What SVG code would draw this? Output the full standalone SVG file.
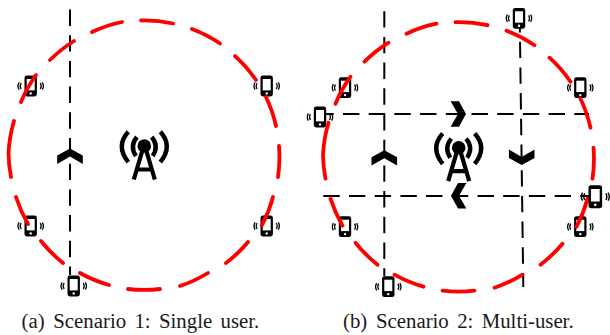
<svg xmlns="http://www.w3.org/2000/svg" width="610" height="335" viewBox="0 0 610 335">
<style>
.dash{fill:none;stroke:#000;stroke-width:2;stroke-dasharray:16.4 9.3}
.ring{fill:none;stroke:#f00;stroke-width:3.8;stroke-linecap:round}
.wave{fill:none;stroke:#000;stroke-width:1.3}
.arc{fill:none;stroke:#000;stroke-width:4.4}
.leg{fill:none;stroke:#000;stroke-width:4.2}
.cap{font-family:"Liberation Serif","Times New Roman",serif;font-size:20.8px;word-spacing:3.2px;fill:#1a1a1a}
</style>
<defs>
<polygon id="chev" points="0,0 12.8,7 12.8,15.4 0,8 -12.8,15.4 -12.8,7" fill="#000"/>
<g id="phone">
<rect x="-6.2" y="-10.4" width="12.4" height="20.8" rx="2.4" fill="#000"/>
<rect x="-4" y="-7" width="8" height="11.4" fill="#fff"/>
<circle cx="0" cy="7.4" r="1.2" fill="#fff"/>
<path class="wave" d="M-9.6,-3 Q-11.4,0 -9.6,3 M-11.6,-3.6 Q-13.8,0 -11.6,3.6 M9.6,-3 Q11.4,0 9.6,3 M11.6,-3.6 Q13.8,0 11.6,3.6"/>
</g>
<g id="tower">
<circle cx="0" cy="0" r="6.8" fill="#000"/>
<path class="arc" d="M-16,-14.2 Q-29,0 -16,16.2 M16,-14.2 Q29,0 16,16.2 M-7.4,-9 Q-15,0 -8.4,10 M7.4,-9 Q15,0 8.4,10"/>
<path class="leg" d="M-1.5,3 L-10.5,33.5 M1.5,3 L10.5,33.5 M-7,23.5 H7"/>
</g>
<path id="ring" class="ring" d="M141,20.5 A135,135 0 0 1 173,23.5 M192,29 A135,135 0 0 1 220,43.5 M235,56 A135,135 0 0 1 256,80 M266,97 A135,135 0 0 1 276,126 M279,146 A135,135 0 0 1 278,177 M273,197 A135,135 0 0 1 262,225 M248,242 A135,135 0 0 1 226,263 M208,273 A135,135 0 0 1 180,286 M160,289 A135,135 0 0 1 128,289 M109,285 A135,135 0 0 1 80,273 M63,263 A135,135 0 0 1 41,241 M28,224 A135,135 0 0 1 16,197 M11,177 A135,135 0 0 1 8.5,153 M8.5,153 A135,135 0 0 1 14,121 M21,102 A135,135 0 0 1 36,75 M50,60 A135,135 0 0 1 74,41 M92,32 A135,135 0 0 1 122,22"/>
</defs>

<g id="connectors">
<g id="a-lines">
<path class="dash" d="M70,9.5 V275"/>
<use href="#chev" transform="translate(70,148.5)"/>
</g>
<g id="b-lines">
<path class="dash" d="M384.3,11.2 V276"/>
<use href="#chev" transform="translate(384.3,150.2)"/>
<path class="dash" d="M519.7,16 L523.3,287"/>
<use href="#chev" transform="translate(521.7,165) rotate(180)"/>
<path class="dash" d="M317.3,114 H589"/>
<use href="#chev" transform="translate(466,114) rotate(90)"/>
<path class="dash" d="M323.3,196 H590"/>
<use href="#chev" transform="translate(451,195.7) rotate(-90)"/>
</g>
</g>

<g id="a-bs"><use href="#tower" transform="translate(144.3,146)"/></g>
<g id="a-ue1"><use href="#phone" transform="translate(30.7,86)"/></g>
<g id="a-ue2"><use href="#phone" transform="translate(266.7,86)"/></g>
<g id="a-ue3"><use href="#phone" transform="translate(30.7,226)"/></g>
<g id="a-ue4"><use href="#phone" transform="translate(266.7,226)"/></g>
<g id="a-ue5"><use href="#phone" transform="translate(73.7,286)"/></g>

<g id="b-bs"><use href="#tower" transform="translate(458.7,147.7)"/></g>
<g id="b-ue1"><use href="#phone" transform="translate(345,87.7)"/></g>
<g id="b-ue2"><use href="#phone" transform="translate(519,18.3)"/></g>
<g id="b-ue3"><use href="#phone" transform="translate(580.3,87.7)"/></g>
<g id="b-ue4"><use href="#phone" transform="translate(320,117)"/></g>
<g id="b-ue5"><use href="#phone" transform="translate(345,226.7)"/></g>
<g id="b-ue6"><use href="#phone" transform="translate(580.3,226.7)"/></g>
<g id="b-ue8"><use href="#phone" transform="translate(388.3,286.7)"/></g>

<g id="a-ring"><use href="#ring"/></g>
<g id="b-ring"><use href="#ring" transform="translate(314.5,1.7)"/></g>

<g id="b-ue7"><use href="#phone" transform="translate(595.3,196.7) scale(1.1)"/></g>

<text class="cap" y="328"><tspan x="21.5">(a)</tspan><tspan x="53.3">Scenario 1: Single user.</tspan></text>
<text class="cap" y="328"><tspan x="343">(b)</tspan><tspan x="376">Scenario 2: Multi-user.</tspan></text>
</svg>
